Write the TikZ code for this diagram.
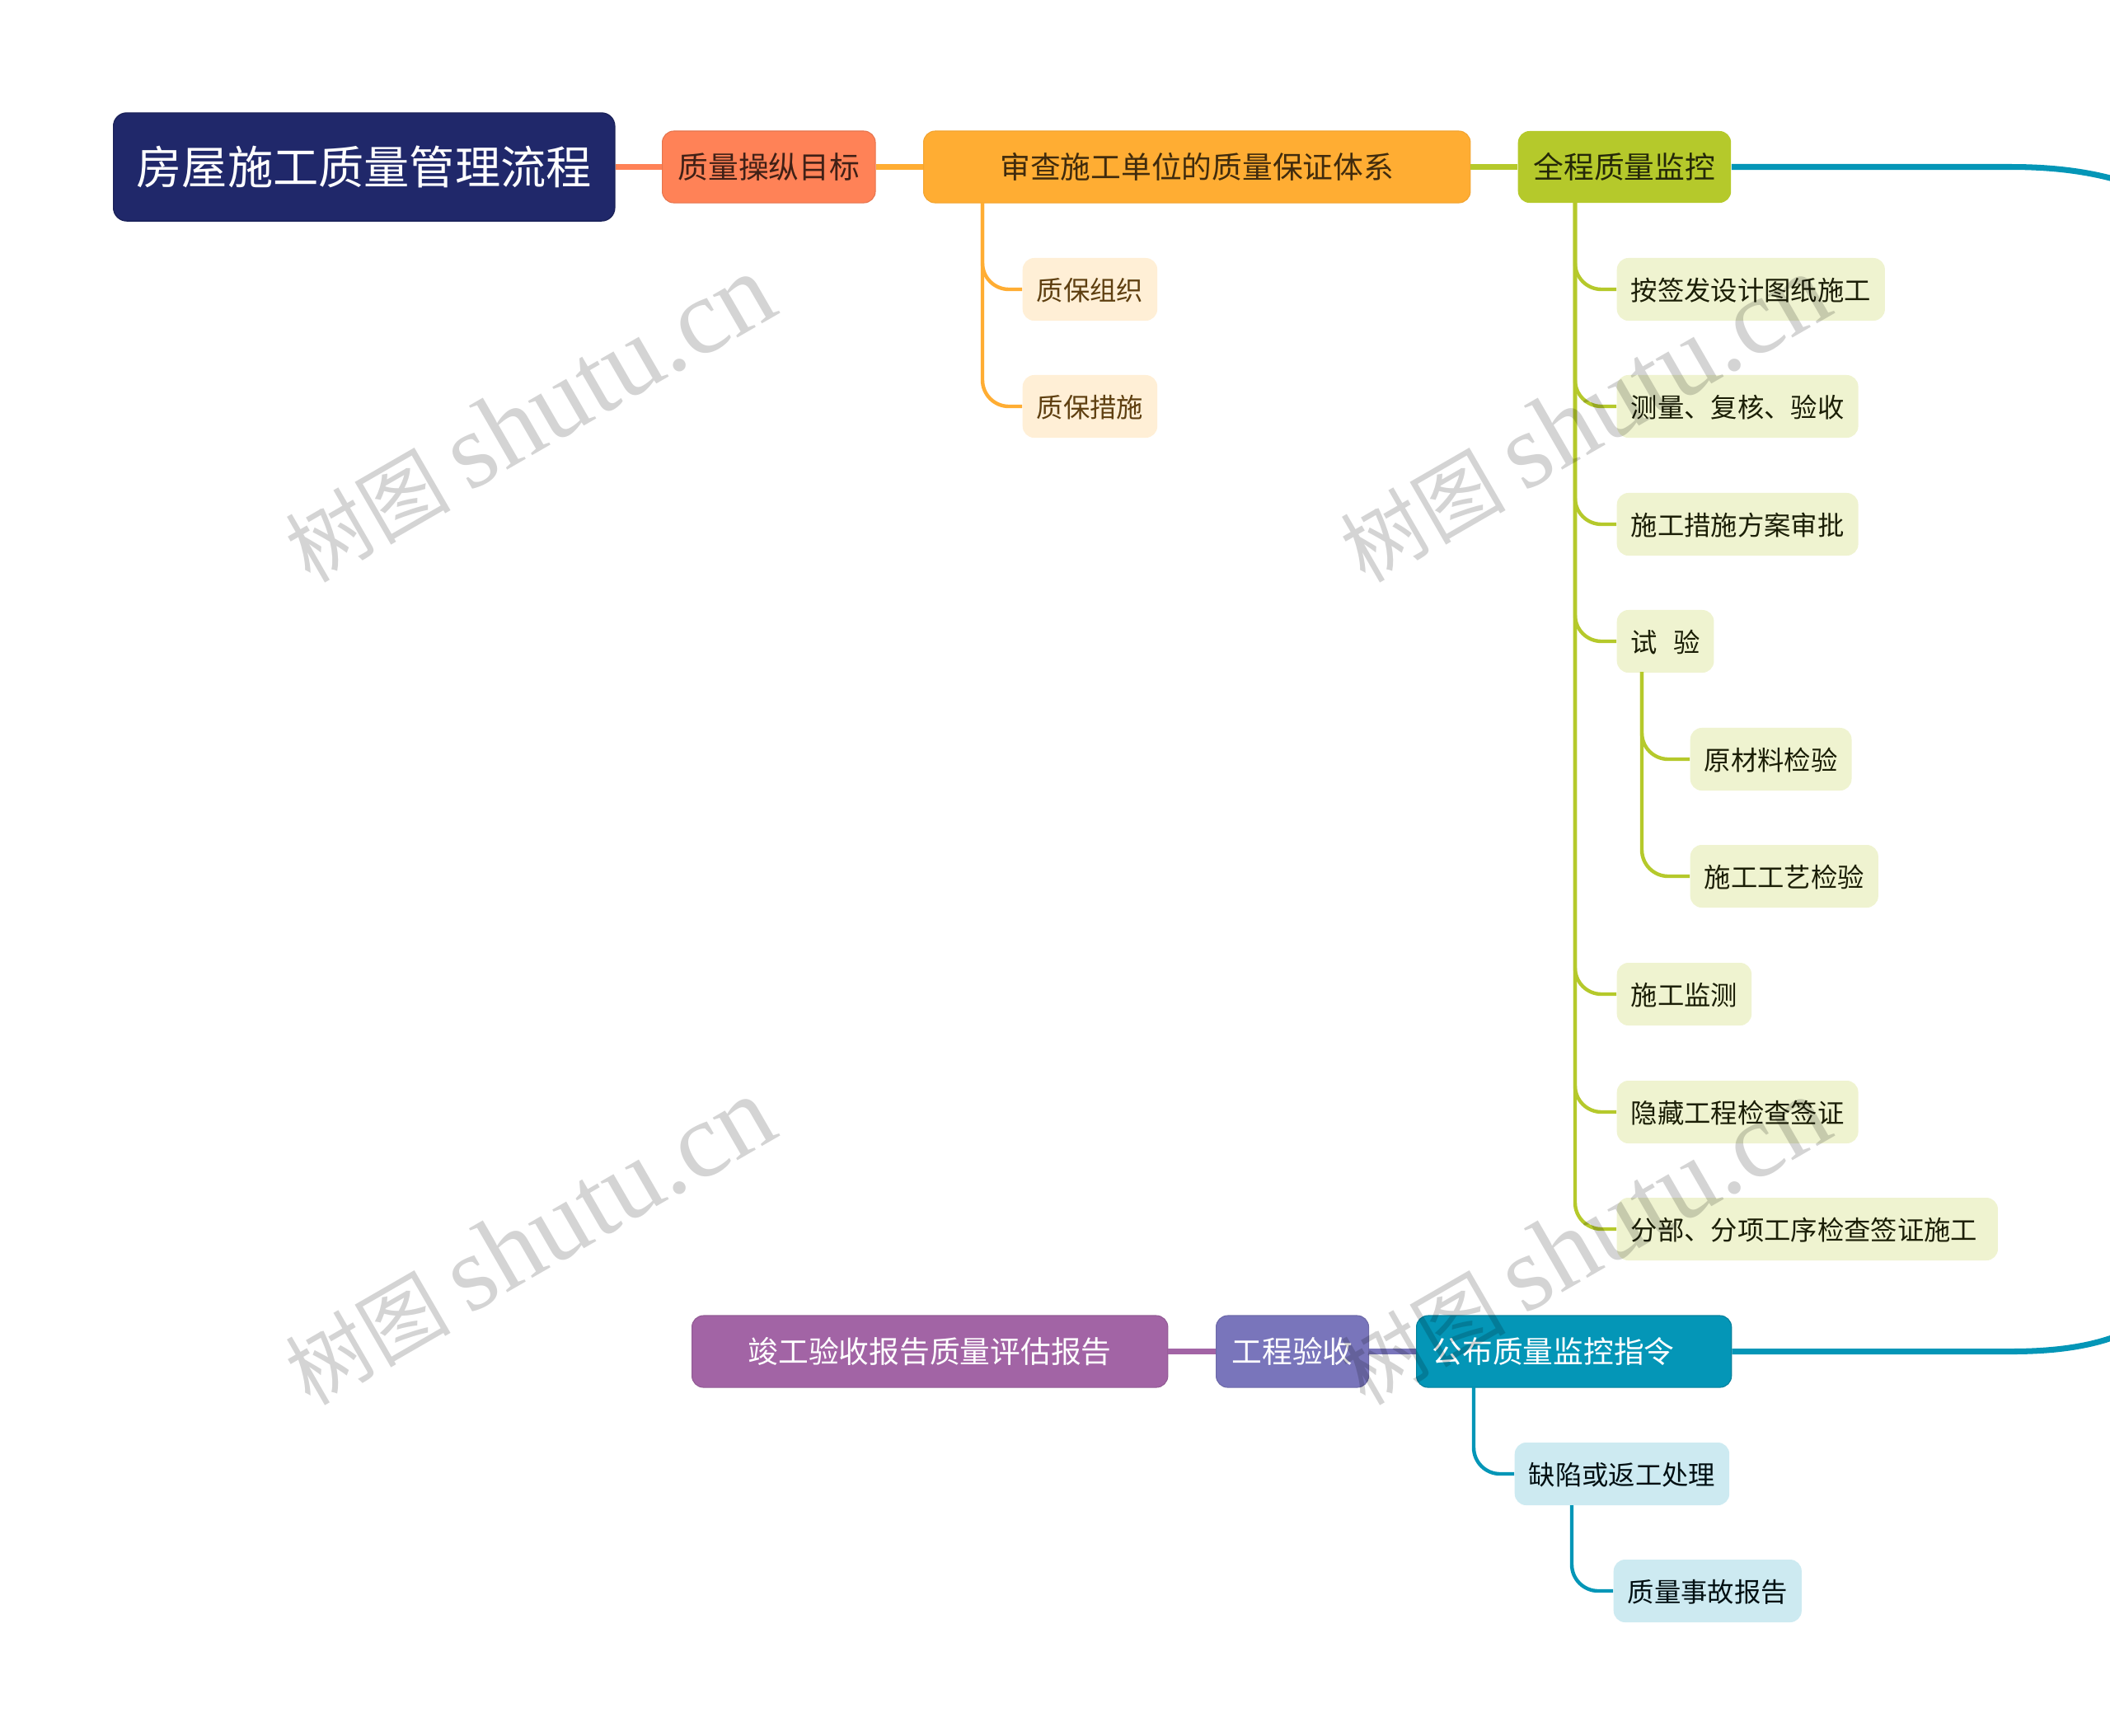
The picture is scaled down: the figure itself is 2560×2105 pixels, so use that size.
\documentclass[tikz,border=0pt]{standalone}
\usepackage{fontspec}
\usepackage{xcolor}
\setmainfont{Noto Sans CJK SC}
\newfontfamily\latinmark{Liberation Serif}

\definecolor{navy}{HTML}{20286A}
\definecolor{coral}{HTML}{FF8257}
\definecolor{amber}{HTML}{FFAD33}
\definecolor{lime}{HTML}{B5C92B}
\definecolor{teal}{HTML}{0496B7}
\definecolor{indigo}{HTML}{7975BB}
\definecolor{plum}{HTML}{A264A5}
\definecolor{umber}{HTML}{5E3F10}

\tikzset{
    rootbox/.style={anchor=west, rounded corners=0.16cm, fill=navy, draw=navy!85!black, line width=0.4pt,
        text=white, minimum height=1.31cm, inner xsep=0.28cm, text height=13.8pt, text depth=1.9pt,
        font=\fontsize{15.7}{18}\selectfont},
    mainbox/.style={anchor=west, rounded corners=0.14cm, minimum height=0.87cm, inner xsep=0.19cm,
        text height=9.2pt, text depth=1.25pt, font=\fontsize{10.45}{13}\selectfont},
    childbox/.style={anchor=west, rounded corners=0.14cm, minimum height=0.76cm, inner xsep=0.17cm,
        text height=8.7pt, text depth=1.1pt, font=\fontsize{9.2}{12}\selectfont},
    goalbox/.style={mainbox, fill=coral, draw=coral!90!black, line width=0.3pt, text=black!75!coral},
    reviewbox/.style={mainbox, fill=amber, draw=amber!95!black, line width=0.3pt, text=black!75!amber},
    monitorbox/.style={mainbox, fill=lime, text=black!80!lime},
    orderbox/.style={mainbox, fill=teal, draw=teal!85!black, line width=0.3pt, text=white},
    acceptbox/.style={mainbox, fill=indigo, draw=indigo!90!black, line width=0.3pt, text=white},
    reportbox/.style={mainbox, fill=plum, draw=plum!90!black, line width=0.3pt, text=white},
    amberchild/.style={childbox, fill=amber!20, text=umber},
    limechild/.style={childbox, fill=lime!22, text=black!85!lime},
    tealchild/.style={childbox, fill=teal!20, text=black!90!teal},
    mainline/.style={line width=2pt},
    branch/.style={line width=1.25pt, rounded corners=0.32cm},
    watermark/.style={rotate=30, text=black, text opacity=0.17, font=\fontsize{28.5}{40}\selectfont}
}
\newcommand{\shutumark}{树图 {\latinmark\fontsize{37}{40}\selectfont shutu.cn}}

\begin{document}
\begin{tikzpicture}[x=0.01cm, y=-0.01cm]

        \useasboundingbox (0,0) rectangle (2560,2105);

        % Top row
        \node[rootbox] at (137,202.5) (title) {房屋施工质量管理流程};
        \node[goalbox] at (803,202.5) (goal) {质量操纵目标};
        \node[reviewbox, minimum width=6.63cm] at (1120,202.5) (review) {审查施工单位的质量保证体系};
        \node[monitorbox] at (1841,202.5) (monitor) {全程质量监控};

        % Children of review
        \node[amberchild] at (1240,351) (qorg) {质保组织};
        \node[amberchild] at (1240,493) (qmeasure) {质保措施};

        % Children of monitor
        \node[limechild] at (1961,351) (drawing) {按签发设计图纸施工};
        \node[limechild] at (1961,493) (survey) {测量、复核、验收};
        \node[limechild] at (1961,636) (plan) {施工措施方案审批};
        \node[limechild] at (1961,778) (test) {试\hspace{0.19cm}验};
        \node[limechild] at (2050,921) (material) {原材料检验};
        \node[limechild] at (2050,1063) (process) {施工工艺检验};
        \node[limechild] at (1961,1206) (watch) {施工监测};
        \node[limechild] at (1961,1349) (hidden) {隐藏工程检查签证};
        \node[limechild, text width=4.28cm, align=left] at (1961,1491) (section) {分部、分项工序检查签证施工};

        % Bottom row
        \node[reportbox, minimum width=5.77cm] at (839,1639.5) (report) {竣工验收报告质量评估报告};
        \node[acceptbox] at (1475,1639.5) (accept) {工程验收};
        \node[orderbox, text width=3.44cm, align=left] at (1718,1639.5) (order) {公布质量监控指令};
        \node[tealchild] at (1837,1788) (defect) {缺陷或返工处理};
        \node[tealchild] at (1957,1930) (incident) {质量事故报告};

        % Free ends and branch points
        \coordinate (exittop) at (2562,216.5);
        \coordinate (exitbottom) at (2562,1623);
        \coordinate (reviewstem) at (1192,246);
        \coordinate (monitorstem) at (1911,246);
        \coordinate (teststem) at (1992,815);
        \coordinate (orderstem) at (1788,1683);
        \coordinate (defectstem) at (1907,1826);

        % Top row lines
        \draw[mainline, coral] (title.east) -- (goal.west);
        \draw[mainline, amber] (goal.east) -- (review.west);
        \draw[mainline, lime] (review.east) -- (monitor.west);
        \draw[mainline, teal] (monitor.east) -- (2440,202.5) .. controls (2490,202.5) and (2530,208) .. (exittop);

        % Review branches
        \draw[branch, amber] (reviewstem) |- (qorg.west);
        \draw[branch, amber] (reviewstem) |- (qmeasure.west);

        % Monitor branches
        \draw[branch, lime] (monitorstem) |- (drawing.west);
        \draw[branch, lime] (monitorstem) |- (survey.west);
        \draw[branch, lime] (monitorstem) |- (plan.west);
        \draw[branch, lime] (monitorstem) |- (test.west);
        \draw[branch, lime] (monitorstem) |- (watch.west);
        \draw[branch, lime] (monitorstem) |- (hidden.west);
        \draw[branch, lime] (monitorstem) |- (section.west);
        \draw[branch, lime] (teststem) |- (material.west);
        \draw[branch, lime] (teststem) |- (process.west);

        % Bottom row lines
        \draw[mainline, plum] (accept.west) -- (report.east);
        \draw[mainline, indigo] (order.west) -- (accept.east);
        \draw[mainline, teal] (order.east) -- (2440,1639.5) .. controls (2490,1639.5) and (2530,1634) .. (exitbottom);
        \draw[branch, teal] (orderstem) |- (defect.west);
        \draw[branch, teal] (defectstem) |- (incident.west);

        % Watermarks
        \node[watermark] at (642,508) (marka) {\shutumark};
        \node[watermark] at (1922,508) (markb) {\shutumark};
        \node[watermark] at (642,1506) (markc) {\shutumark};
        \node[watermark] at (1922,1506) (markd) {\shutumark};

    \end{tikzpicture}
\end{document}
